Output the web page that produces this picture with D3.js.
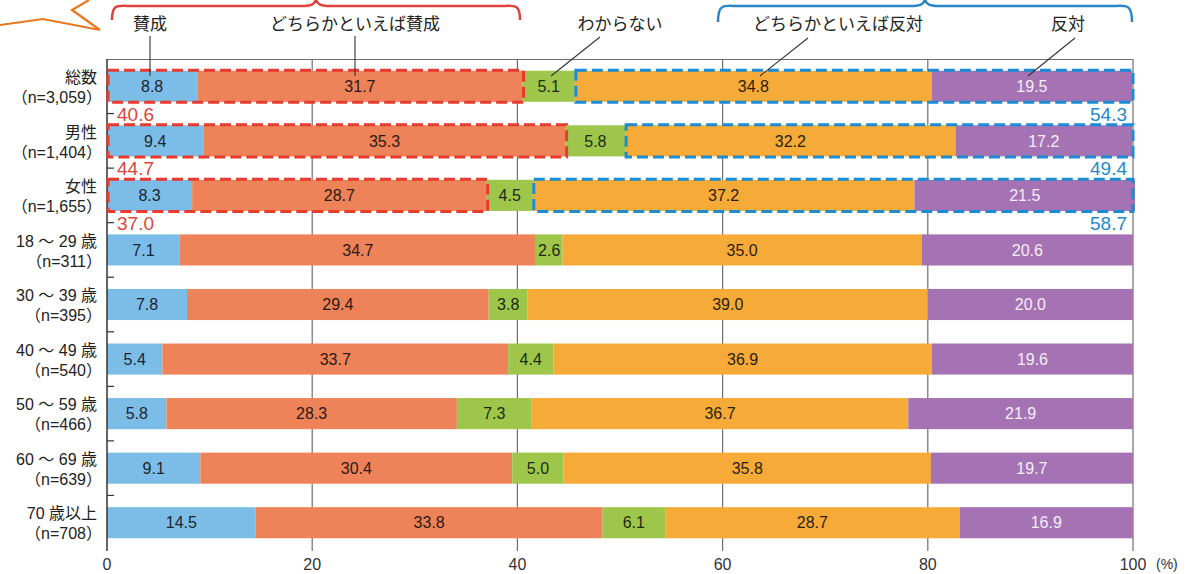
<!DOCTYPE html>
<html><head><meta charset="utf-8">
<script src="https://cdn.jsdelivr.net/npm/d3@7"></script>
<style>
body{margin:0;background:#fff;}
svg{display:block;font-family:"Liberation Sans","Noto Sans CJK JP",sans-serif;}
</style></head>
<body><svg id="chart" width="1195" height="574"></svg>
<script>
const categories = ["総数","男性","女性","18 ～ 29 歳","30 ～ 39 歳","40 ～ 49 歳","50 ～ 59 歳","60 ～ 69 歳","70 歳以上"];
const sampleSizes = ["（n=3,059）","（n=1,404）","（n=1,655）","（n=311）","（n=395）","（n=540）","（n=466）","（n=639）","（n=708）"];
const seriesNames = ["賛成","どちらかといえば賛成","わからない","どちらかといえば反対","反対"];
const agree        = [8.8, 9.4, 8.3, 7.1, 7.8, 5.4, 5.8, 9.1, 14.5];
const ratherAgree  = [31.7,35.3,28.7,34.7,29.4,33.7,28.3,30.4,33.8];
const dontKnow     = [5.1, 5.8, 4.5, 2.6, 3.8, 4.4, 7.3, 5.0, 6.1];
const ratherOppose = [34.8,32.2,37.2,35.0,39.0,36.9,36.7,35.8,28.7];
const oppose       = [19.5,17.2,21.5,20.6,20.0,19.6,21.9,19.7,16.9];
const agreeTotals  = [40.6,44.7,37.0];
const opposeTotals = [54.3,49.4,58.7];
const xTicks = [0,20,40,60,80,100];

const colors = ["#7bbde6","#ee8258","#9dc64b","#f6aa37","#a573b3"];
const textColors = ["#1d2430","#2a1a14","#1d2a10","#2a1f0c","#f5eef8"];
const series = [agree, ratherAgree, dontKnow, ratherOppose, oppose];

const svg = d3.select("#chart");
const x = d3.scaleLinear().domain([0,100]).range([107,1133]);
const y = d3.scaleBand().domain(categories).range([59,550]).paddingInner(0.43).paddingOuter(0.215);
const bw = y.bandwidth();

// gridlines
svg.append("g").selectAll("line").data(xTicks.slice(1)).join("line")
  .attr("x1",d=>x(d)).attr("x2",d=>x(d)).attr("y1",59).attr("y2",551)
  .attr("stroke","#6f6f6f").attr("stroke-width",1.2);
// top frame line
svg.append("line").attr("x1",x(0)).attr("x2",x(100)).attr("y1",59.5).attr("y2",59.5)
  .attr("stroke","#6f6f6f").attr("stroke-width",1.2);

// stacked data
const rows = categories.map((c,i)=>{
  let cum=0;
  return series.map((s,k)=>{const seg={cat:c,k,v:s[i],x0:cum,x1:cum+s[i]};cum+=s[i];return seg;});
});

const rowG = svg.append("g").selectAll("g").data(rows).join("g");
rowG.selectAll("rect").data(d=>d).join("rect")
  .attr("x",d=>x(d.x0)).attr("width",d=>x(d.x1)-x(d.x0))
  .attr("y",d=>y(d.cat)).attr("height",bw)
  .attr("fill",d=>colors[d.k]);
rowG.selectAll("text").data(d=>d).join("text")
  .attr("x",d=>(x(d.x0)+x(d.x1))/2).attr("y",d=>y(d.cat)+bw/2)
  .attr("dy","0.36em").attr("text-anchor","middle")
  .attr("font-size",16).attr("fill",d=>textColors[d.k])
  .text(d=>d.v.toFixed(1));

// left axis
svg.append("line").attr("x1",107).attr("x2",107).attr("y1",59).attr("y2",551)
  .attr("stroke","#333").attr("stroke-width",1.5);
const bounds = categories.slice(1).map((c)=>y(c)-y.step()*y.paddingInner()/2);
svg.append("g").selectAll("line").data(bounds).join("line")
  .attr("x1",107).attr("x2",114).attr("y1",d=>d).attr("y2",d=>d)
  .attr("stroke","#333").attr("stroke-width",1.2);

// category labels
const lab = svg.append("g").selectAll("g").data(categories).join("g");
lab.append("text").attr("x",97).attr("y",d=>y(d)+bw/2-9).attr("dy","0.36em")
  .attr("text-anchor","end").attr("font-size",16).attr("fill","#222").text(d=>d);
lab.append("text").attr("x",102).attr("y",(d,i)=>y(d)+bw/2+11).attr("dy","0.36em")
  .attr("text-anchor","end").attr("font-size",16).attr("fill","#222").text((d,i)=>sampleSizes[i]);

// dashed boxes for first three rows
agreeTotals.forEach((t,i)=>{
  const c = categories[i];
  const end = agree[i]+ratherAgree[i];
  svg.append("rect").attr("x",x(0)+1).attr("y",y(c)-0.5).attr("width",x(end)-x(0)).attr("height",bw+1)
    .attr("fill","none").attr("stroke","#e63b2e").attr("stroke-width",3).attr("stroke-dasharray","11,5");
  svg.append("text").attr("x",117).attr("y",y(c)+bw+12).attr("dy","0.36em")
    .attr("font-size",19).attr("fill","#e0443a").text(t.toFixed(1));
});
opposeTotals.forEach((t,i)=>{
  const c = categories[i];
  const start = agree[i]+ratherAgree[i]+dontKnow[i];
  svg.append("rect").attr("x",x(start)+1).attr("y",y(c)-0.5).attr("width",x(100)-x(start)-1).attr("height",bw+1)
    .attr("fill","none").attr("stroke","#1b8bd4").attr("stroke-width",3).attr("stroke-dasharray","11,5");
  svg.append("text").attr("x",1127).attr("y",y(c)+bw+12).attr("dy","0.36em").attr("text-anchor","end")
    .attr("font-size",19).attr("fill","#2589c8").text(t.toFixed(1));
});

// x axis labels
svg.append("g").selectAll("text").data(xTicks).join("text")
  .attr("x",d=>x(d)).attr("y",564).attr("dy","0.36em").attr("text-anchor","middle")
  .attr("font-size",16).attr("fill","#333").text(d=>d);
svg.append("text").attr("x",1156).attr("y",564).attr("dy","0.36em")
  .attr("font-size",14).attr("fill","#333").text("(%)");

// legend labels + leader lines
const legendPos = [[150,150,72],[355,355,72],[620,551,72],[838,760,72],[1068,1028,72]];
const legendLine = [[150,36],[355,36],[600,37],[808,38],[1075,38]];
seriesNames.forEach((n,i)=>{
  svg.append("text").attr("x",legendPos[i][0]).attr("y",24).attr("dy","0.36em")
    .attr("text-anchor","middle").attr("font-size",17).attr("fill","#222").text(n);
  svg.append("line").attr("x1",legendLine[i][0]).attr("y1",legendLine[i][1])
    .attr("x2",legendPos[i][1]).attr("y2",legendPos[i][2]+4)
    .attr("stroke","#333").attr("stroke-width",1.1);
});

// braces
function brace(x1,x2,yTop,yEnd){
  const m=(x1+x2)/2;
  return `M${x1},${yEnd} C${x1},${yTop+2} ${x1+6},${yTop+5} ${x1+20},${yTop+5} L${m-14},${yTop+5} C${m-4},${yTop+5} ${m-1},${yTop+3} ${m},${yTop-2} C${m+1},${yTop+3} ${m+4},${yTop+5} ${m+14},${yTop+5} L${x2-20},${yTop+5} C${x2-6},${yTop+5} ${x2},${yTop+2} ${x2},${yEnd}`;
}
svg.append("path").attr("d",brace(112,520,1,20)).attr("fill","none").attr("stroke","#e0413a").attr("stroke-width",2.5);
svg.append("path").attr("d",brace(718,1132,1,22)).attr("fill","none").attr("stroke","#2a86c6").attr("stroke-width",2.5);

// orange callout fragment
svg.append("path").attr("d","M0,25 L43,19 L100,30 L72,10 L89,0")
  .attr("fill","none").attr("stroke","#e8781e").attr("stroke-width",2.2).attr("stroke-linejoin","miter");
</script></body></html>
